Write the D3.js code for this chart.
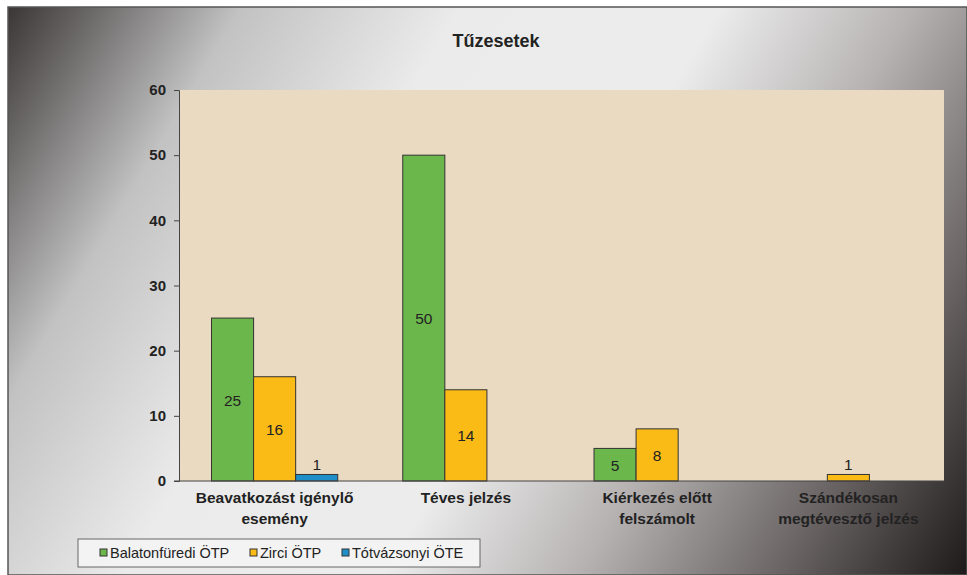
<!DOCTYPE html>
<html>
<head>
<meta charset="utf-8">
<script src="https://cdn.jsdelivr.net/npm/d3@7"></script>
<style>
  body { margin: 0; background: #fff; }
  svg { display: block; font-family: "Liberation Sans", Arial, sans-serif; }
</style>
</head>
<body>
<svg id="chart" width="967" height="575"></svg>
<script>
var title = "Tűzesetek";
var categories = [
  ["Beavatkozást igénylő", "esemény"],
  ["Téves jelzés"],
  ["Kiérkezés előtt", "felszámolt"],
  ["Szándékosan", "megtévesztő jelzés"]
];
var seriesNames = ["Balatonfüredi ÖTP", "Zirci ÖTP", "Tótvázsonyi ÖTE"];
var balatonfuredi = [25, 50, 5, 0];
var zirci = [16, 14, 8, 1];
var totvazsonyi = [1, 0, 0, 0];
var yTicks = [0, 10, 20, 30, 40, 50, 60];
var colors = ["#6cb74c", "#fbbb17", "#1f8fc9"];

var seriesValues = [balatonfuredi, zirci, totvazsonyi];

var svg = d3.select("#chart"),
    width = +svg.attr("width"),
    height = +svg.attr("height");

var plot = {left: 179, top: 90, right: 944, bottom: 481};

// background gradient of the chart area
var defs = svg.append("defs");
var grad = defs.append("linearGradient")
    .attr("id", "bg")
    .attr("gradientUnits", "userSpaceOnUse")
    .attr("x1", 8).attr("y1", 7).attr("x2", width).attr("y2", height);
[[0, "#3a3636"], [0.07, "#6e6b6b"], [0.18, "#c2c2c2"], [0.35, "#ebebeb"],
 [0.55, "#ececec"], [0.7, "#b6b2b2"], [0.85, "#6c6666"], [1, "#1e1a1a"]]
  .forEach(function(s) {
    grad.append("stop").attr("offset", s[0]).attr("stop-color", s[1]);
  });

svg.append("rect")
    .attr("x", 8).attr("y", 7)
    .attr("width", width - 8).attr("height", height - 7)
    .attr("fill", "url(#bg)")
    .attr("stroke", "#555")
    .attr("stroke-width", 1.5);

// plot area
svg.append("rect")
    .attr("x", plot.left).attr("y", plot.top)
    .attr("width", plot.right - plot.left)
    .attr("height", plot.bottom - plot.top)
    .attr("fill", "#eadac2");

var x0 = d3.scaleBand()
    .domain(d3.range(categories.length))
    .range([plot.left, plot.right])
    .paddingInner(0.34)
    .paddingOuter(0.17);

var x1 = d3.scaleBand()
    .domain(d3.range(seriesNames.length))
    .range([0, x0.bandwidth()]);

var y = d3.scaleLinear()
    .domain([0, 60])
    .range([plot.bottom, plot.top]);

// title
svg.append("text")
    .attr("x", 496).attr("y", 47)
    .attr("text-anchor", "middle")
    .attr("font-size", 18).attr("font-weight", "bold")
    .attr("fill", "#222")
    .text(title);

// bars
var groups = svg.selectAll(".grp")
    .data(categories)
  .enter().append("g")
    .attr("class", "grp")
    .attr("transform", function(d, i) { return "translate(" + x0(i) + ",0)"; });

groups.each(function(c, ci) {
  var g = d3.select(this);
  var vals = seriesValues.map(function(s, si) { return {s: si, v: s[ci]}; })
      .filter(function(d) { return d.v > 0; });

  g.selectAll("rect")
      .data(vals)
    .enter().append("rect")
      .attr("x", function(d) { return x1(d.s); })
      .attr("y", function(d) { return y(d.v); })
      .attr("width", x1.bandwidth())
      .attr("height", function(d) { return y(0) - y(d.v); })
      .attr("fill", function(d) { return colors[d.s]; })
      .attr("stroke", "#333")
      .attr("stroke-width", 1);

  g.selectAll("text.lbl")
      .data(vals)
    .enter().append("text")
      .attr("class", "lbl")
      .attr("x", function(d) { return x1(d.s) + x1.bandwidth() / 2; })
      .attr("y", function(d) {
        var h = y(0) - y(d.v);
        return h < 16 ? y(d.v) - 4 : (y(d.v) + y(0)) / 2 + 6;
      })
      .attr("text-anchor", "middle")
      .attr("font-size", 15.5)
      .attr("fill", "#222")
      .text(function(d) { return d.v; });
});

// y axis
var yAxis = svg.append("g")
    .attr("transform", "translate(" + plot.left + ",0)")
    .call(d3.axisLeft(y).tickValues(yTicks).tickSize(5).tickPadding(8));
yAxis.select(".domain").attr("stroke", "#444");
yAxis.selectAll(".tick line").attr("stroke", "#444");
yAxis.selectAll("text")
    .attr("font-size", 15).attr("font-weight", "bold")
    .attr("fill", "#222")
    .attr("font-family", "Liberation Sans, Arial, sans-serif");

// x axis line
svg.append("line")
    .attr("x1", plot.left - 5).attr("x2", plot.right)
    .attr("y1", y(0)).attr("y2", y(0))
    .attr("stroke", "#444");

// category labels
svg.selectAll(".cat")
    .data(categories)
  .enter().append("text")
    .attr("class", "cat")
    .attr("text-anchor", "middle")
    .attr("font-size", 15.5).attr("font-weight", "bold")
    .attr("fill", "#222")
    .each(function(d, i) {
      var t = d3.select(this);
      d.forEach(function(line, li) {
        t.append("tspan")
            .attr("x", x0(i) + x0.bandwidth() / 2)
            .attr("y", 503 + li * 21)
            .text(line);
      });
    });

// legend
var legend = svg.append("g");
legend.append("rect")
    .attr("x", 78).attr("y", 539)
    .attr("width", 402).attr("height", 28)
    .attr("fill", "#f3f3f3")
    .attr("stroke", "#666");

var legX = [100, 250, 342];
seriesNames.forEach(function(name, i) {
  legend.append("rect")
      .attr("x", legX[i]).attr("y", 549)
      .attr("width", 7).attr("height", 7)
      .attr("fill", colors[i])
      .attr("stroke", "#333");
  legend.append("text")
      .attr("x", legX[i] + 10).attr("y", 558)
      .attr("font-size", 14.5)
      .attr("fill", "#222")
      .text(name);
});
</script>
</body>
</html>
